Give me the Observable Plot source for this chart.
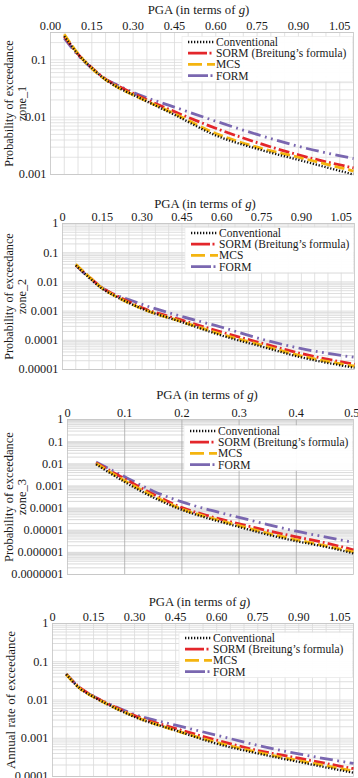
<!DOCTYPE html>
<html>
<head>
<meta charset="utf-8">
<script src="https://cdn.jsdelivr.net/npm/d3@7"></script>
<script src="https://cdn.jsdelivr.net/npm/@observablehq/plot@0.6"></script>
<style>
  body { margin: 0; background: #fff; font-family: "Liberation Serif", "DejaVu Serif", serif; }
  #page { position: relative; width: 358px; height: 800px; overflow: hidden; }
  .panel { position: absolute; left: 0; width: 358px; }
  .panel svg { display: block; font-family: "Liberation Serif", "DejaVu Serif", serif !important; }
  .ptitle { position: absolute; font-size: 12.8px; line-height: 16px; height: 16px; white-space: nowrap; color: #1a1a1a; transform: translateX(-50%); }
</style>
</head>
<body>
<div id="page"></div>
<script>
// Peak ground acceleration values (g) at which exceedance is evaluated
const pga = [0.05, 0.1, 0.15, 0.2, 0.25, 0.3, 0.45, 0.6, 0.75, 0.9, 1.1];
const pgaZone3 = [0.05, 0.1, 0.15, 0.2, 0.25, 0.3, 0.35, 0.4, 0.45, 0.5];

// Zone 1: probability of exceedance
const zone1Conventional = [0.26, 0.125, 0.072, 0.045, 0.032, 0.0245, 0.011, 0.0048, 0.0028, 0.0018, 0.001];
const zone1Sorm         = [0.26, 0.126, 0.073, 0.046, 0.034, 0.026, 0.0125, 0.0064, 0.0036, 0.0022, 0.0013];
const zone1Mcs          = [0.28, 0.128, 0.071, 0.045, 0.032, 0.0245, 0.0115, 0.0052, 0.003, 0.002, 0.00115];
const zone1Form         = [0.24, 0.12, 0.071, 0.046, 0.035, 0.027, 0.015, 0.0085, 0.005, 0.0031, 0.0019];

// Zone 2: probability of exceedance
const zone2Conventional = [0.037, 0.014, 0.0058, 0.0032, 0.0019, 0.0012, 0.00042, 0.000145, 6.1e-5, 2.6e-5, 1.15e-5];
const zone2Sorm         = [0.038, 0.015, 0.0062, 0.0035, 0.0021, 0.0013, 0.00049, 0.00019, 8e-5, 3.5e-5, 1.5e-5];
const zone2Mcs          = [0.04, 0.015, 0.006, 0.0032, 0.0019, 0.0012, 0.00043, 0.00016, 6.8e-5, 2.9e-5, 1.3e-5];
const zone2Form         = [0.038, 0.014, 0.0062, 0.0036, 0.0025, 0.0017, 0.00065, 0.00028, 0.00011, 5.2e-5, 2.6e-5];

// Zone 3: probability of exceedance
const zone3Conventional = [0.0095, 0.0015, 0.0003, 8.3e-5, 3.2e-5, 1.4e-5, 6.3e-6, 3.2e-6, 1.8e-6, 9e-7];
const zone3Sorm         = [0.011, 0.0021, 0.00042, 1.05e-4, 4.2e-5, 1.95e-5, 9.5e-6, 5e-6, 2.7e-6, 1.3e-6];
const zone3Mcs          = [0.0105, 0.0017, 0.00035, 9e-5, 3.6e-5, 1.6e-5, 7.3e-6, 3.7e-6, 2e-6, 1.05e-6];
const zone3Form         = [0.012, 0.0026, 0.00058, 1.9e-4, 8e-5, 3.8e-5, 1.8e-5, 9e-6, 5e-6, 2.8e-6];

// Annual rate of exceedance
const annualConventional = [0.047, 0.02, 0.012, 0.0078, 0.0052, 0.0036, 0.0016, 0.00072, 0.0004, 0.00024, 0.000125];
const annualSorm         = [0.047, 0.021, 0.0125, 0.0082, 0.0056, 0.0039, 0.0018, 0.00089, 0.00048, 0.0003, 0.00016];
const annualMcs          = [0.047, 0.02, 0.012, 0.0078, 0.0053, 0.0037, 0.0016, 0.00078, 0.00043, 0.00026, 0.00014];
const annualForm         = [0.048, 0.021, 0.0125, 0.0083, 0.0058, 0.0042, 0.0022, 0.0012, 0.00065, 0.00039, 0.00022];

// Methods, in legend order
const methodNames = ["Conventional", "SORM (Breitung\u2019s formula)", "MCS", "FORM"];
const methodColors = ["#111111", "#e3262b", "#f4b40f", "#7a67b0"];
const methodDash = ["1.3 1.7", "11 3 1.8 3.2", "10 4", "13 4.5 1.8 4.5 1.8 4.5"];
const methodWidth = [2.3, 2.8, 2.8, 2.8];

// Axis ticks and their labels
const pgaTicks = [0, 0.15, 0.3, 0.45, 0.6, 0.75, 0.9, 1.05];
const pgaLabelsZone1 = ["0.00", "0.15", "0.30", "0.45", "0.60", "0.75", "0.90", "1.05"];
const pgaLabels = ["0", "0.15", "0.30", "0.45", "0.60", "0.75", "0.90", "1.05"];
const pgaTicksZone3 = [0, 0.1, 0.2, 0.3, 0.4, 0.5];
const pgaLabelsZone3 = ["0", "0.1", "0.2", "0.3", "0.4", "0.5"];
const probTicks = [1, 0.1, 0.01, 0.001, 0.0001, 0.00001, 0.000001, 0.0000001];
const probLabels = ["1", "0.1", "0.01", "0.001", "0.0001", "0.00001", "0.000001", "0.0000001"];

function logGrid([lo, hi]) {
  const out = [];
  for (let e = Math.floor(Math.log10(lo)); e <= Math.ceil(Math.log10(hi)); e++) {
    for (let m = 1; m <= 9; m++) {
      const v = +(m * Math.pow(10, e)).toPrecision(6);
      if (v >= lo * 0.999 && v <= hi * 1.001) out.push(v);
    }
  }
  return out;
}

const panels = [
  { top: 14, height: 166, mt: 18, mb: 6, ml: 50, mr: 5,
    x: pga, series: [zone1Conventional, zone1Sorm, zone1Mcs, zone1Form],
    xDomain: [0, 1.1], xTicks: pgaTicks, xLabels: pgaLabelsZone1, vStep: 0.05, vColor: "#dadada",
    yDomain: [0.001, 0.3], yTicks: [0.1, 0.01, 0.001], hColor: "#dcdcdc",
    yTitle: "Probability of exceedance\nzone_1", yTitleX: 15, yTitleSize: 12.2,
    titleY: 10, legendRow: 42, legendX: 188 },
  { top: 208, height: 169, mt: 15, mb: 8, ml: 62, mr: 4,
    x: pga, series: [zone2Conventional, zone2Sorm, zone2Mcs, zone2Form],
    xDomain: [0, 1.1], xTicks: pgaTicks, xLabels: pgaLabels, vStep: 0.05, vColor: "#dadada",
    yDomain: [0.00001, 1], yTicks: [1, 0.1, 0.01, 0.001, 0.0001, 0.00001], hColor: "#d6d6d6",
    yTitle: "Probability of exceedance\nzone_2", yTitleX: 15, yTitleSize: 12.2,
    titleY: 204, legendRow: 233, legendX: 191 },
  { top: 400, height: 180, mt: 19, mb: 6, ml: 67, mr: 5,
    x: pgaZone3, series: [zone3Conventional, zone3Sorm, zone3Mcs, zone3Form],
    xDomain: [0, 0.5], xTicks: pgaTicksZone3, xLabels: pgaLabelsZone3, vStep: 0.1, vColor: "#a8a8a8",
    yDomain: [0.0000001, 1], yTicks: probTicks, hColor: "#cfcfcf",
    yTitle: "Probability of exceedance\nzone_3", yTitleX: 15, yTitleSize: 12.5,
    titleY: 395, legendRow: 431, legendX: 190 },
  { top: 606, height: 180, mt: 17, mb: 10, ml: 52, mr: 5,
    x: pga, series: [annualConventional, annualSorm, annualMcs, annualForm],
    xDomain: [0, 1.1], xTicks: pgaTicks, xLabels: pgaLabels, vStep: 0.05, vColor: "#dadada",
    yDomain: [0.0001, 1], yTicks: [1, 0.1, 0.01, 0.001, 0.0001], hColor: "#d6d6d6",
    yTitle: "Annual rate of exceedance", yTitleX: 10, yTitleSize: 13,
    titleY: 602, legendRow: 638, legendX: 185 }
];

const page = document.getElementById("page");

for (const p of panels) {
  const rows = [];
  p.series.forEach((vals, k) => vals.forEach((v, i) => rows.push({ pga: p.x[i], value: v, method: methodNames[k] })));

  const xLabelOf = new Map(p.xTicks.map((t, i) => [t, p.xLabels[i]]));
  const yLabelOf = new Map(probTicks.map((t, i) => [t, probLabels[i]]));
  const vGrid = d3.range(1, Math.round(p.xDomain[1] / p.vStep)).map(i => +(i * p.vStep).toFixed(3));

  const lineMarks = [3, 1, 2, 0].map(k => Plot.line(rows.filter(d => d.method === methodNames[k]), {
    x: "pga", y: "value", stroke: methodColors[k], strokeWidth: methodWidth[k],
    strokeDasharray: methodDash[k], curve: "monotone-x", strokeLinecap: "butt"
  }));

  const chart = Plot.plot({
    width: 358, height: p.height,
    marginLeft: p.ml, marginRight: p.mr, marginTop: p.mt, marginBottom: p.mb,
    style: { fontFamily: "Liberation Serif, DejaVu Serif, serif", fontSize: "12.3px", color: "#1a1a1a", background: "transparent" },
    x: { domain: p.xDomain, axis: "top", ticks: p.xTicks, tickFormat: d => xLabelOf.get(d), tickSize: 0, tickPadding: 3, label: null },
    y: { type: "log", domain: p.yDomain, ticks: p.yTicks, tickFormat: d => yLabelOf.get(d), tickSize: 0, tickPadding: 4, label: null },
    marks: [
      Plot.ruleY(logGrid(p.yDomain), { stroke: p.hColor, strokeWidth: 0.8 }),
      Plot.ruleX(vGrid, { stroke: p.vColor, strokeWidth: 0.8 }),
      Plot.frame({ stroke: "#c4c4c4", strokeWidth: 0.8 }),
      ...lineMarks,
      Plot.text([p.yTitle], { text: d => d, frameAnchor: "left", textAnchor: "middle", lineAnchor: "middle",
        rotate: -90, dx: p.yTitleX - p.ml, fontSize: p.yTitleSize, lineHeight: 1, fill: "#1a1a1a" })
    ]
  });

  const svg = d3.select(chart);

  // Keep the last top tick label inside the page edge
  svg.selectAll("text").filter(function () { return this.textContent === "0.5"; })
    .attr("text-anchor", "end").attr("dx", 6);

  // Legend box in the upper right of the frame
  const S = p.legendX, r0 = p.legendRow - p.top, step = 11.2;
  const lg = svg.append("g").attr("text-anchor", "start");
  lg.append("rect").attr("x", S - 6).attr("y", r0 - 5.5).attr("width", 358 - p.mr - (S - 6) - 0.5).attr("height", 45)
    .attr("fill", "#fff").attr("fill-opacity", 0.95).attr("stroke", "#e6e6e6").attr("stroke-width", 0.6);
  const legendDash = ["1.3 1.7", "19 2.5 2 10", "14 5 9", "20 2.5 2 10"];
  methodNames.forEach((name, k) => {
    const y = r0 + k * step;
    lg.append("line").attr("x1", S).attr("x2", S + 27).attr("y1", y).attr("y2", y)
      .attr("stroke", methodColors[k]).attr("stroke-width", methodWidth[k]).attr("stroke-dasharray", legendDash[k]);
    lg.append("text").attr("x", S + 28).attr("y", y).attr("dy", "0.34em").attr("text-anchor", "start")
      .attr("font-size", 11.5).attr("fill", "#1a1a1a").text(name);
  });

  const div = document.createElement("div");
  div.className = "panel";
  div.style.top = p.top + "px";
  div.appendChild(chart);
  page.appendChild(div);

  const title = document.createElement("div");
  title.className = "ptitle";
  title.style.top = (p.titleY - 8) + "px";
  title.style.left = ((p.ml + 358 - p.mr) / 2 - 3) + "px";
  title.innerHTML = "PGA (in terms of <i>g</i>)";
  page.appendChild(title);
}
</script>
</body>
</html>
